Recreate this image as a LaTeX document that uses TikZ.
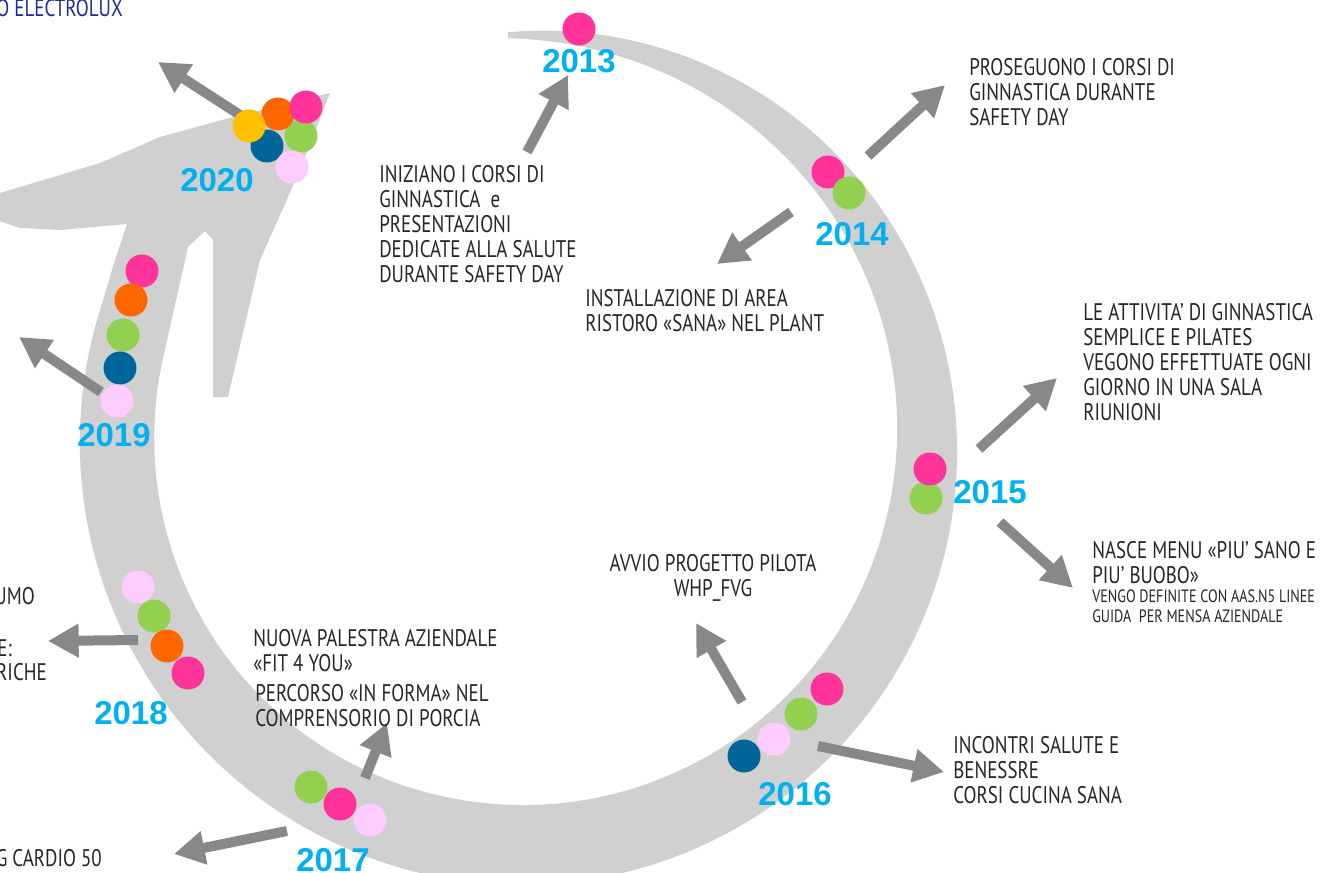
\documentclass[tikz,border=0pt]{standalone}
\usepackage{fontspec}
\usetikzlibrary{arrows.meta}
\newfontfamily\bodyfont[FakeStretch=0.79]{PT Sans}
\newfontfamily\yrfont{Liberation Sans}
\definecolor{cpink}{HTML}{FF3399}
\definecolor{cgreen}{HTML}{92D050}
\definecolor{corange}{HTML}{FF6600}
\definecolor{cblue}{HTML}{006699}
\definecolor{clpink}{HTML}{FFCCFF}
\definecolor{cyellow}{HTML}{FFC000}
\definecolor{yearblue}{HTML}{00B0F0}
\definecolor{arrgray}{HTML}{87888A}
\definecolor{strokegray}{HTML}{D0D0D0}
\definecolor{textcol}{HTML}{262626}
\definecolor{navy}{HTML}{1F2A9E}
\tikzset{
  dot/.style={circle, inner sep=0pt, minimum size=24.75pt, draw=none},
  arr/.style={draw=arrgray, line width=7.5pt, -{Triangle[length=23pt,width=24pt]}},
  yr/.style={text=yearblue, font=\yrfont\bfseries\fontsize{24.75pt}{26pt}\selectfont, inner sep=0pt},
  body/.style={text=textcol, font=\bodyfont\fontsize{18pt}{18.75pt}\selectfont, inner sep=0pt, align=left, anchor=north west},
  small/.style={text=textcol, font=\bodyfont\fontsize{13.4pt}{15pt}\selectfont, inner sep=0pt, align=left, anchor=north west},
  edge/.style={text=textcol, font=\bodyfont\fontsize{18pt}{18.75pt}\selectfont, inner sep=0pt, anchor=east}
}
\begin{document}
\begin{tikzpicture}[x=0.75pt, y=-0.75pt,
  declare function={bw(\t)=ifthenelse(\t<100, 80-74*((100-(\t))/192)^2, 80-0.07*((\t)-100));}]
\useasboundingbox (0,0) rectangle (1337,873);
\clip (0,0) rectangle (1337,873);
\fill[white] (0,0) rectangle (1337,873);
% brush stroke circular arrow
\fill[strokegray]
  plot[domain=-92:195, samples=160, variable=\t] ({522+(405+bw(\t)/2)*cos(\t)}, {440+(405+bw(\t)/2)*sin(\t)})
  -- (115,260) -- (127,224) -- (60,230) -- (20,228) -- (-10,218) -- (-10,196) -- (100,163) -- (160,137) -- (233,117) -- (330,93)
  -- (300,170) -- (260,260) -- (228,397) -- (213,397) -- (213,240) -- (205,231) -- (188,247) -- (170,327)
  -- plot[domain=195:-92, samples=160, variable=\t] ({522+(405-bw(\t)/2)*cos(\t)}, {440+(405-bw(\t)/2)*sin(\t)})
  -- cycle;

% arrows
\coordinate (a13s) at (527,152); \coordinate (a13e) at (568,75);
\coordinate (a14as) at (868,156); \coordinate (a14ae) at (945,85);
\coordinate (a14bs) at (791,212); \coordinate (a14be) at (717,264);
\coordinate (a15as) at (979,449); \coordinate (a15ae) at (1057,378);
\coordinate (a15bs) at (1000,522); \coordinate (a15be) at (1073,588);
\coordinate (a16as) at (742,702); \coordinate (a16ae) at (696,623);
\coordinate (a16bs) at (818,746); \coordinate (a16be) at (944,772);
\coordinate (a17as) at (365,778); \coordinate (a17ae) at (387,723);
\coordinate (a17bs) at (287,831); \coordinate (a17be) at (174,854);
\coordinate (a18s) at (138,640); \coordinate (a18e) at (48,641);
\coordinate (a19s) at (101,392); \coordinate (a19e) at (19,337);
\coordinate (a20s) at (240,115); \coordinate (a20e) at (158,62);
\foreach \s/\e in {a13s/a13e, a14as/a14ae, a14bs/a14be, a15as/a15ae, a15bs/a15be, a16as/a16ae, a16bs/a16be, a17as/a17ae, a17bs/a17be, a18s/a18e, a19s/a19e, a20s/a20e}
  \draw[arr] (\s) -- (\e);

% dots
\node[dot, fill=cpink] (d13a) at (579,29) {};
\node[dot, fill=cpink] (d14a) at (828,172) {};
\node[dot, fill=cgreen] (d14b) at (849,193) {};
\node[dot, fill=cgreen] (d15b) at (926,498) {};
\node[dot, fill=cpink] (d15a) at (930,469) {};
\node[dot, fill=cpink] (d16d) at (827,689) {};
\node[dot, fill=cgreen] (d16c) at (801,714) {};
\node[dot, fill=clpink] (d16b) at (774,739) {};
\node[dot, fill=cblue] (d16a) at (744,756) {};
\node[dot, fill=cgreen] (d17a) at (311,787) {};
\node[dot, fill=cpink] (d17b) at (340,804) {};
\node[dot, fill=clpink] (d17c) at (370,820) {};
\node[dot, fill=clpink] (d18a) at (138,587) {};
\node[dot, fill=cgreen] (d18b) at (154,616) {};
\node[dot, fill=cpink] (d18d) at (188,673) {};
\node[dot, fill=corange] (d18c) at (167,646) {};
\node[dot, fill=cpink] (d19a) at (142,271) {};
\node[dot, fill=corange] (d19b) at (131,300) {};
\node[dot, fill=cgreen] (d19c) at (123,335) {};
\node[dot, fill=cblue] (d19d) at (120,368) {};
\node[dot, fill=clpink] (d19e) at (117,401) {};
\node[dot, fill=cblue] (d20e) at (267,146) {};
\node[dot, fill=cgreen] (d20d) at (301,136) {};
\node[dot, fill=corange] (d20b) at (278,114) {};
\node[dot, fill=cpink] (d20c) at (306,107) {};
\node[dot, fill=cyellow] (d20a) at (249,126) {};
\node[dot, fill=clpink] (d20f) at (292,167) {};

% years
\node[yr] (y13) at (579,61) {2013};
\node[yr] (y14) at (852,234) {2014};
\node[yr] (y15) at (990,492) {2015};
\node[yr] (y16) at (795,794) {2016};
\node[yr] (y17) at (333,860) {2017};
\node[yr] (y18) at (131,713) {2018};
\node[yr] (y19) at (114,435) {2019};
\node[yr] (y20) at (217,180) {2020};

% texts
\node[body] (t13) at (379,165) {INIZIANO I CORSI DI\\GINNASTICA\ \ e\\PRESENTAZIONI\\DEDICATE ALLA SALUTE\\DURANTE SAFETY DAY};
\node[body] (t14a) at (969,58) {PROSEGUONO I CORSI DI\\GINNASTICA DURANTE\\SAFETY DAY};
\node[body] (t14b) at (585,289) {INSTALLAZIONE DI AREA\\RISTORO «SANA» NEL PLANT};
\node[body] (t15a) at (1083,303) {LE ATTIVITA’ DI GINNASTICA\\SEMPLICE E PILATES\\VEGONO EFFETTUATE OGNI\\GIORNO IN UNA SALA\\RIUNIONI};
\node[body] (t15b) at (1092,541) {NASCE MENU «PIU’ SANO E\\PIU’ BUOBO»};
\node[small] (t15c) at (1092,590) {VENGO DEFINITE CON AAS.N5 LINEE\\GUIDA\ \ PER MENSA AZIENDALE};
\node[body, anchor=north, align=center] (t16a) at (713,554) {AVVIO PROGETTO PILOTA\\WHP\_FVG};
\node[body] (t16b) at (953,736) {INCONTRI SALUTE E\\BENESSRE\\CORSI CUCINA SANA};
\node[body] (t17a) at (253,629) {NUOVA PALESTRA AZIENDALE\\«FIT 4 YOU»};
\node[body] (t17b) at (255,684) {PERCORSO «IN FORMA» NEL\\COMPRENSORIO DI PORCIA};
\node[edge] (t18a) at (35,596) {UMO};
\node[edge] (t18b) at (12,648) {E:};
\node[edge] (t18c) at (47,672) {RICHE};
\node[edge] (t17c) at (102,858) {G CARDIO 50};
\node[edge, text=navy] (title) at (123,8) {O ELECTROLUX};
\end{tikzpicture}
\end{document}
